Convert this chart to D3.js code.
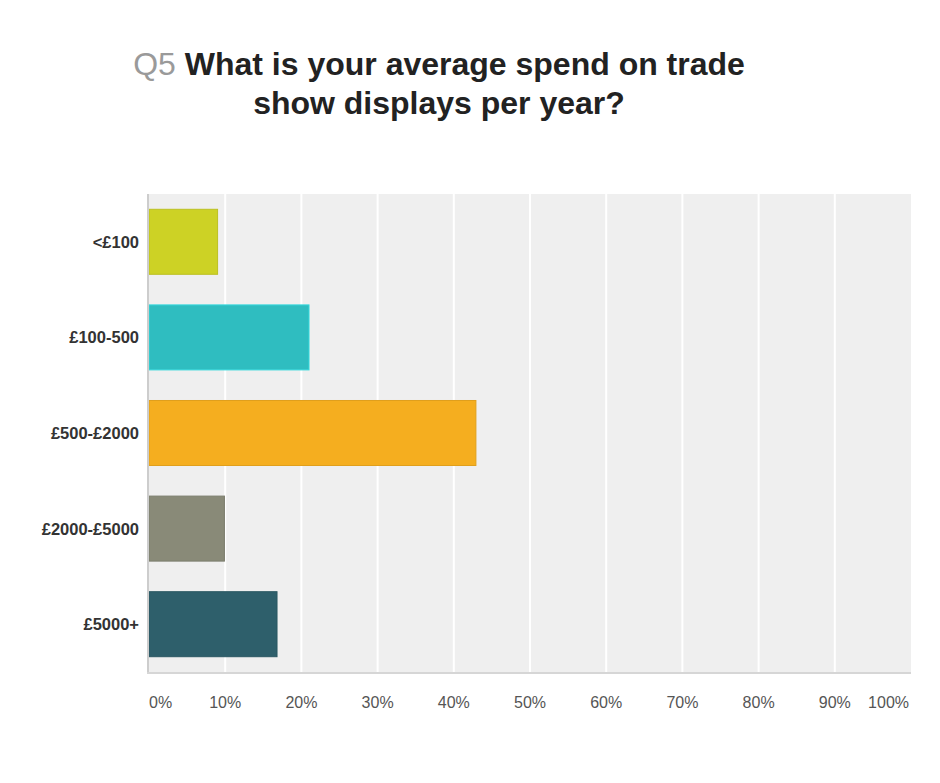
<!DOCTYPE html>
<html>
<head>
<meta charset="utf-8">
<script src="https://cdn.jsdelivr.net/npm/d3@7"></script>
<style>
  body { margin: 0; background: #fff; }
  svg { display: block; font-family: "Liberation Sans", Arial, sans-serif; }
</style>
</head>
<body>
<div id="chart"></div>
<script>
const width = 940
const height = 783
const margin = { top: 194, right: 29, bottom: 111, left: 149 }

// survey answers, share of respondents in percent
const categories = ["<£100", "£100-500", "£500-£2000", "£2000-£5000", "£5000+"]
const values = [9.0, 21.0, 42.9, 9.9, 16.8]
const colors = ["#cdd225", "#2fbdc0", "#f5ae1f", "#898a78", "#2e5f6b"]
const ticks = [0, 10, 20, 30, 40, 50, 60, 70, 80, 90, 100]

const svg = d3.select("#chart").append("svg")
    .attr("width", width).attr("height", height)

const iW = width - margin.left - margin.right
const iH = height - margin.top - margin.bottom

// title
const title = svg.append("text")
    .attr("text-anchor", "middle")
    .attr("font-size", 32)
    .attr("font-weight", "bold")
    .attr("fill", "#222")
const line1 = title.append("tspan").attr("x", 439).attr("y", 75)
line1.append("tspan").attr("fill", "#9a9a9a").attr("font-weight", "normal").text("Q5 ")
line1.append("tspan").text("What is your average spend on trade")
title.append("tspan").attr("x", 439).attr("y", 114).text("show displays per year?")

const x = d3.scaleLinear().domain([0, 100]).range([0, iW])
const y = d3.scaleBand().domain(categories).range([0, iH]).padding(0.32).paddingOuter(0.16)

const g = svg.append("g").attr("transform", `translate(${margin.left},${margin.top})`)

g.append("rect")
    .attr("width", iW).attr("height", iH)
    .attr("fill", "#efefef")

// vertical grid
g.selectAll(".grid").data(ticks.slice(1, -1))
    .join("line")
    .attr("x1", d => x(d)).attr("x2", d => x(d))
    .attr("y1", 0).attr("y2", iH)
    .attr("stroke", "#fff").attr("stroke-width", 2)

// bars
g.selectAll(".bar").data(values)
    .join("rect")
    .attr("x", 0)
    .attr("y", (d, i) => y(categories[i]))
    .attr("width", d => x(d))
    .attr("height", y.bandwidth())
    .attr("fill", (d, i) => colors[i])
    .attr("stroke", (d, i) => i === 1 ? d3.color(colors[i]).brighter(0.4) : d3.color(colors[i]).darker(0.25))
    .attr("stroke-width", 1)

// axis lines
g.append("line").attr("x1", -1).attr("x2", -1).attr("y1", 0).attr("y2", iH + 1)
    .attr("stroke", "#cdcdcd").attr("stroke-width", 2)
g.append("line").attr("x1", -2).attr("x2", iW).attr("y1", iH + 1).attr("y2", iH + 1)
    .attr("stroke", "#d6d6d6").attr("stroke-width", 2)

// y labels
g.selectAll(".ylab").data(categories)
    .join("text")
    .attr("x", -10)
    .attr("y", d => y(d) + y.bandwidth() / 2)
    .attr("dy", "0.36em")
    .attr("text-anchor", "end")
    .attr("font-size", 16.5)
    .attr("font-weight", "bold")
    .attr("fill", "#333")
    .text(d => d)

// x labels: first start-anchored, last end-anchored
g.selectAll(".xlab").data(ticks)
    .join("text")
    .attr("x", (d, i) => i === ticks.length - 1 ? x(d) - 2 : x(d))
    .attr("y", iH + 30)
    .attr("dy", "0.36em")
    .attr("text-anchor", (d, i) => i === 0 ? "start" : i === ticks.length - 1 ? "end" : "middle")
    .attr("font-size", 16)
    .attr("fill", "#555")
    .text(d => d + "%")
</script>
</body>
</html>
